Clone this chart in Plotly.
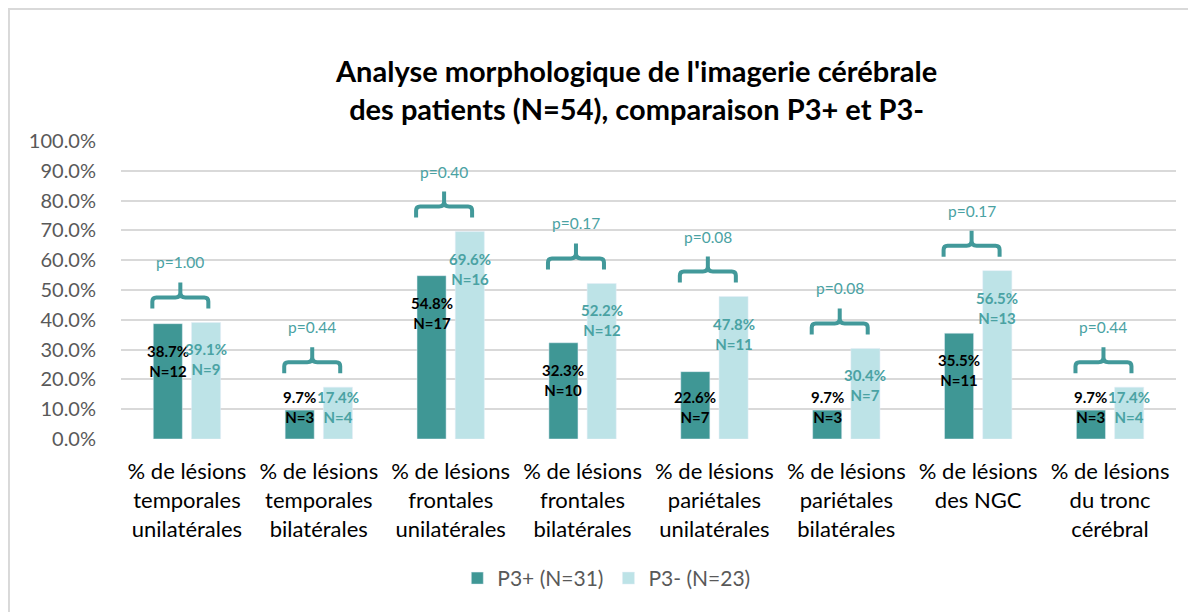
import plotly.graph_objects as go

categories = [
    "% de lésions<br>temporales<br>unilatérales",
    "% de lésions<br>temporales<br>bilatérales",
    "% de lésions<br>frontales<br>unilatérales",
    "% de lésions<br>frontales<br>bilatérales",
    "% de lésions<br>pariétales<br>unilatérales",
    "% de lésions<br>pariétales<br>bilatérales",
    "% de lésions<br>des NGC",
    "% de lésions<br>du tronc<br>cérébral",
]
p3plus_pct = [38.7, 9.7, 54.8, 32.3, 22.6, 9.7, 35.5, 9.7]
p3plus_n = [12, 3, 17, 10, 7, 3, 11, 3]
p3minus_pct = [39.1, 17.4, 69.6, 52.2, 47.8, 30.4, 56.5, 17.4]
p3minus_n = [9, 4, 16, 12, 11, 7, 13, 4]
p_values = ["1.00", "0.44", "0.40", "0.17", "0.08", "0.08", "0.17", "0.44"]
series_names = ["P3+ (N=31)", "P3- (N=23)"]
y_ticks = [0, 10, 20, 30, 40, 50, 60, 70, 80, 90, 100]

DARK = "#3F9795"
LIGHT = "#BDE3E7"
TEAL_TEXT = "#4AA2A3"
BRACE = "#42999A"
FONT = "Lato"

xs = list(range(len(categories)))

fig = go.Figure()
fig.add_trace(go.Bar(x=xs, y=p3plus_pct, name=series_names[0], marker_color=DARK,
                     hoverinfo="skip"))
fig.add_trace(go.Bar(x=xs, y=p3minus_pct, name=series_names[1], marker_color=LIGHT,
                     hoverinfo="skip"))

bargap = 0.42
bargroupgap = 0.24
slot = (1 - bargap) / 2
off = slot / 2

annotations = []
shapes = []
for i in xs:
    for val, n, dx, col in [(p3plus_pct[i], p3plus_n[i], -off, "black"),
                            (p3minus_pct[i], p3minus_n[i], off, TEAL_TEXT)]:
        yc = max(val - 12.4, 10.8)
        annotations.append(dict(
            x=i + dx, y=yc, xref="x", yref="y",
            text=f"<b>{val:.1f}%<br>N={n}</b>", showarrow=False,
            font=dict(family=FONT, size=15, color=col),
            xanchor="center", yanchor="middle"))
    top = max(p3plus_pct[i], p3minus_pct[i])
    bx = i - 0.05
    shapes.append(dict(
        type="path", xref="x", yref="y", xsizemode="pixel", ysizemode="pixel",
        xanchor=bx, yanchor=top,
        path=("M -28,14 L -28,21 Q -28,25 -24,25 L -5,25 Q 0,25 0,30 L 0,40 "
              "M 0,30 Q 0,25 5,25 L 24,25 Q 28,25 28,21 L 28,14"),
        line=dict(color=BRACE, width=4)))
    annotations.append(dict(
        x=bx, y=top, xref="x", yref="y", yshift=60,
        text=f"p={p_values[i]}", showarrow=False,
        font=dict(family=FONT, size=15.5, color=TEAL_TEXT),
        xanchor="center", yanchor="middle"))

# title
annotations.append(dict(
    x=0.488, y=1.172, xref="paper", yref="paper",
    text="<b>Analyse morphologique de l'imagerie cérébrale<br>des patients (N=54), comparaison P3+ et P3-</b>",
    showarrow=False, font=dict(family=FONT, size=29, color="black"),
    xanchor="center", yanchor="middle"))

# chart border
shapes.append(dict(type="rect", xref="paper", yref="paper",
                   x0=-0.1062, x1=1.05, y0=-0.7, y1=1.443,
                   line=dict(color="#D9D9D9", width=2), fillcolor="rgba(0,0,0,0)",
                   layer="below"))

fig.update_layout(
    width=1196, height=612,
    margin=dict(l=113, r=28, t=133, b=181),
    paper_bgcolor="white", plot_bgcolor="white",
    barmode="group", bargap=bargap, bargroupgap=bargroupgap,
    font=dict(family=FONT),
    showlegend=True,
    legend=dict(orientation="h", x=0.46, y=-0.468, xanchor="center", yanchor="middle",
                font=dict(family=FONT, size=21, color="#595959"),
                itemwidth=30, traceorder="normal"),
    annotations=annotations,
    shapes=shapes,
)
fig.update_xaxes(
    tickvals=xs, ticktext=categories, range=[-0.5, len(categories) - 0.5],
    showgrid=False, zeroline=False, showline=False,
    ticks="outside", ticklen=13, tickcolor="rgba(0,0,0,0)",
    tickfont=dict(family=FONT, size=22, color="black"), tickangle=0,
)
fig.update_yaxes(
    range=[0, 100], tickvals=y_ticks, ticktext=[f"{t:.1f}%" for t in y_ticks],
    showgrid=True, gridcolor="#D9D9D9", gridwidth=1.5, zeroline=False,
    showline=False, ticks="outside", ticklen=20, tickcolor="rgba(0,0,0,0)",
    tickfont=dict(family=FONT, size=20, color="#595959"),
)

fig.write_html("out.html")
